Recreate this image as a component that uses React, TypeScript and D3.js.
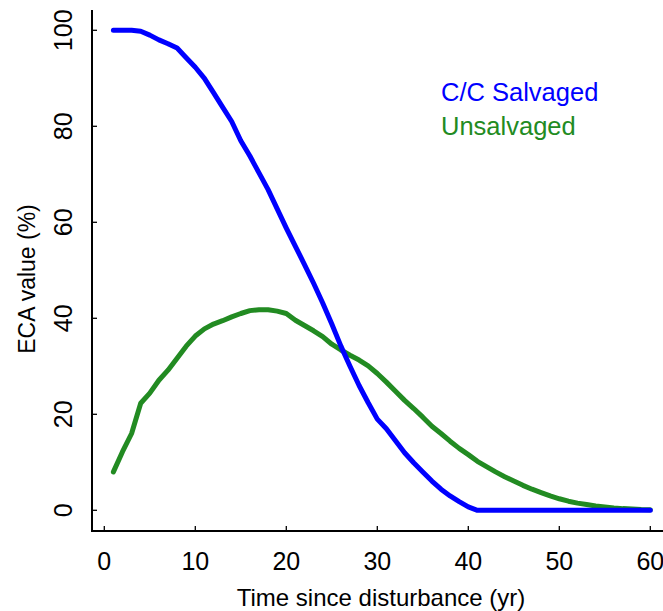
import React from "react";
import * as d3 from "d3";

const years = d3.range(1, 61);
const salvaged = [
  100, 100, 100, 99.8, 99, 98, 97.2, 96.3, 94.3, 92.3,
  90, 87, 84, 81, 77, 73.8, 70.3, 66.8, 62.8, 58.8,
  55, 51.2, 47.3, 43.2, 38.8, 34.2, 30, 26, 22.4, 19,
  17, 14.5, 12, 9.9, 8, 6.1, 4.4, 3, 1.8, 0.7,
  0, 0, 0, 0, 0, 0, 0, 0, 0, 0,
  0, 0, 0, 0, 0, 0, 0, 0, 0, 0,
];
const unsalvaged = [
  8, 12.2, 16, 22.3, 24.4, 27.1, 29.2, 31.7, 34.2, 36.3,
  37.8, 38.8, 39.5, 40.3, 41, 41.6, 41.8, 41.8, 41.5, 41,
  39.6, 38.5, 37.4, 36.2, 34.6, 33.4, 32.3, 31.3, 30.1, 28.5,
  26.7, 24.8, 22.9, 21.2, 19.4, 17.5, 16, 14.4, 12.9, 11.6,
  10.2, 9.1, 8, 7, 6.1, 5.2, 4.4, 3.7, 3, 2.4,
  1.9, 1.5, 1.2, 0.9, 0.7, 0.5, 0.35, 0.25, 0.15, 0.1,
];
const xTicks = [0, 10, 20, 30, 40, 50, 60];
const yTicks = [0, 20, 40, 60, 80, 100];
const seriesNames = ["C/C Salvaged", "Unsalvaged"];
const seriesColors = ["#0000FF", "#228B22"];

const W = 663;
const H = 611;
const FONT = "'Liberation Sans', Arial, sans-serif";

export default function App() {
  const x = d3.scaleLinear().domain([0, 60]).range([104.3, 650.3]);
  const y = d3.scaleLinear().domain([0, 100]).range([510.3, 30.3]);
  const left = 92;
  const bottom = 531;
  const top = 10;

  const line = d3
    .line<number>()
    .x((_, i) => x(years[i]))
    .y((d) => y(d));

  return (
    <svg
      width={W}
      height={H}
      style={{ position: "absolute", left: 0, top: 0, background: "#fff" }}
      fontFamily={FONT}
    >
      <rect width={W} height={H} fill="#fff" />
      {/* axes */}
      <line x1={left} x2={left} y1={top} y2={bottom} stroke="#000" strokeWidth={2} />
      <line x1={left - 1} x2={W} y1={bottom} y2={bottom} stroke="#000" strokeWidth={2} />
      {xTicks.map((t) => (
        <g key={"x" + t}>
          <line x1={x(t)} x2={x(t)} y1={bottom} y2={bottom - 5} stroke="#000" strokeWidth={1.3} />
          <text x={x(t)} y={570} textAnchor="middle" fontSize={25} fill="#000">
            {t}
          </text>
        </g>
      ))}
      {yTicks.map((t) => (
        <g key={"y" + t}>
          <line x1={left} x2={left + 5} y1={y(t)} y2={y(t)} stroke="#000" strokeWidth={1.3} />
          <text
            transform={`translate(72,${y(t)}) rotate(-90)`}
            textAnchor="middle"
            fontSize={25}
            fill="#000"
          >
            {t}
          </text>
        </g>
      ))}
      <text x={381} y={606} textAnchor="middle" fontSize={24} fill="#000">
        Time since disturbance (yr)
      </text>
      <text
        transform={`translate(35,279) rotate(-90)`}
        textAnchor="middle"
        fontSize={23}
        fill="#000"
      >
        ECA value (%)
      </text>
      {/* lines */}
      <path
        d={line(unsalvaged) || ""}
        fill="none"
        stroke={seriesColors[1]}
        strokeWidth={5}
        strokeLinecap="round"
        strokeLinejoin="round"
      />
      <path
        d={line(salvaged) || ""}
        fill="none"
        stroke={seriesColors[0]}
        strokeWidth={5}
        strokeLinecap="round"
        strokeLinejoin="round"
      />
      {/* legend */}
      {seriesNames.map((n, i) => (
        <text key={n} x={441} y={101 + i * 34} fontSize={25.5} fill={seriesColors[i]}>
          {n}
        </text>
      ))}
    </svg>
  );
}
